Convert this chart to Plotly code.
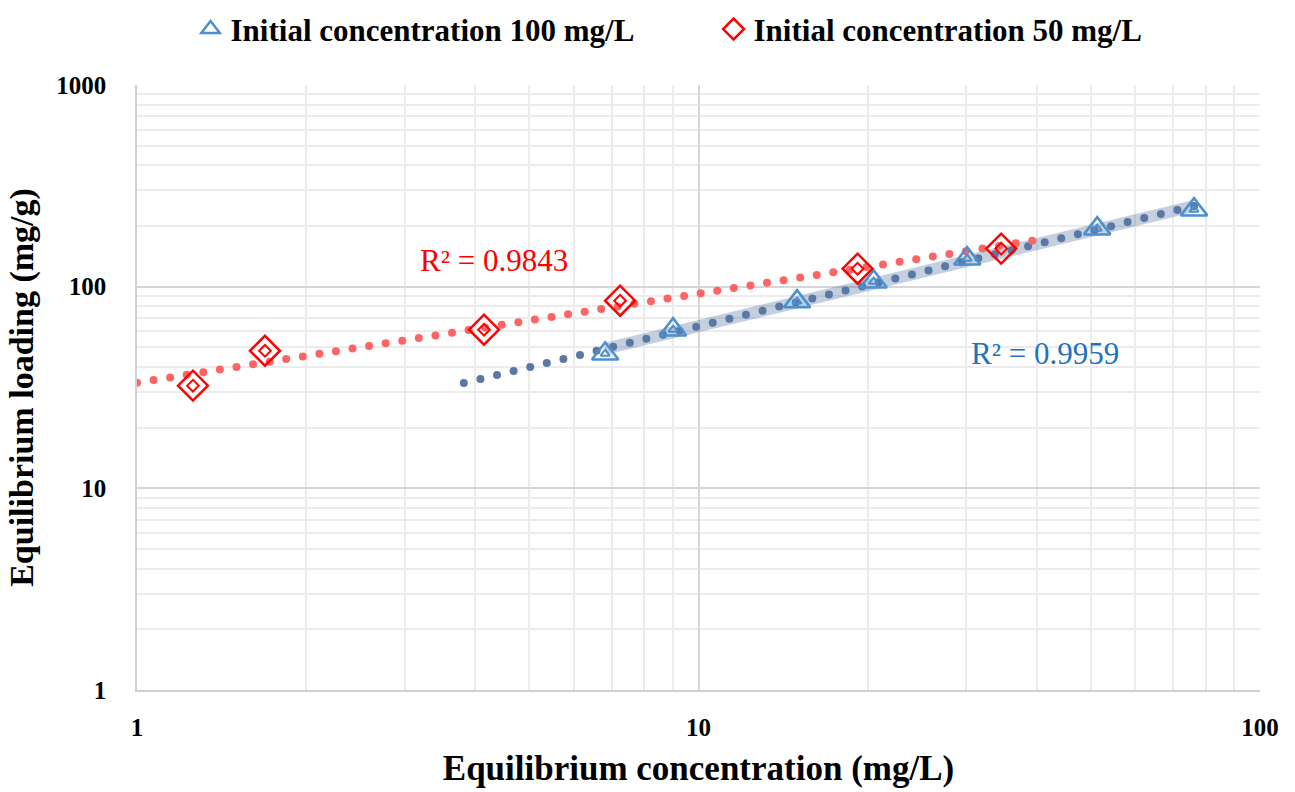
import numpy as np
import plotly.graph_objects as go

# Equilibrium data (Ce in mg/L, qe in mg/g)
ce_100 = [6.82, 9.01, 14.98, 20.5, 30.1, 51.3, 76.3]
qe_100 = [46.5, 61.2, 84.3, 105.9, 137.7, 194.0, 241.0]

ce_50 = [1.258, 1.69, 4.15, 7.25, 19.2, 34.6]
qe_50 = [32.3, 48.1, 61.2, 85.2, 122.8, 154.4]

r2_100_label = "R² = 0.9959"
r2_50_label = "R² = 0.9843"

FONT = "Liberation Serif"
BLUE = "#4a90d0"
RED = "#ff0000"


def power_fit(x, y):
    b, log_a = np.polyfit(np.log10(x), np.log10(y), 1)
    return 10 ** log_a, b


def dotted_points(a, b, x0, x1, n):
    xs = np.logspace(np.log10(x0), np.log10(x1), n)
    return xs, a * xs ** b


a100, b100 = power_fit(ce_100, qe_100)
a50, b50 = power_fit(ce_50, qe_50)

fig = go.Figure()

# Wide translucent band along the 100 mg/L fit over the data range
band_x = np.logspace(np.log10(min(ce_100)), np.log10(max(ce_100)), 40)
fig.add_trace(go.Scatter(
    x=band_x, y=a100 * band_x ** b100, mode="lines",
    line=dict(color="rgba(70,105,155,0.32)", width=12),
    showlegend=False, hoverinfo="skip"))

# Dotted power-law trendlines (round dots)
tx, ty = dotted_points(a100, b100, min(ce_100) - 3, max(ce_100), 45)
fig.add_trace(go.Scatter(
    x=tx, y=ty, mode="markers",
    marker=dict(color="#5a78a6", size=8, line=dict(width=0)),
    showlegend=False, hoverinfo="skip"))

tx, ty = dotted_points(a50, b50, 1.0, max(ce_50) + 4.7, 55)
fig.add_trace(go.Scatter(
    x=tx, y=ty, mode="markers",
    marker=dict(color="#ff6464", size=8, line=dict(width=0)),
    showlegend=False, hoverinfo="skip"))

# Measured points: outer outline plus a small inner outline
fig.add_trace(go.Scatter(
    x=ce_100, y=qe_100, mode="markers", name="Initial concentration 100 mg/L",
    marker=dict(symbol="triangle-up-open", size=23, color=BLUE,
                line=dict(color=BLUE, width=2.5))))
fig.add_trace(go.Scatter(
    x=ce_100, y=qe_100, mode="markers", showlegend=False, hoverinfo="skip",
    marker=dict(symbol="triangle-up-open", size=8, color=BLUE,
                line=dict(color=BLUE, width=2))))
fig.add_trace(go.Scatter(
    x=ce_50, y=qe_50, mode="markers", name="Initial concentration 50 mg/L",
    marker=dict(symbol="diamond-open", size=23, color=RED,
                line=dict(color=RED, width=2.5))))
fig.add_trace(go.Scatter(
    x=ce_50, y=qe_50, mode="markers", showlegend=False, hoverinfo="skip",
    marker=dict(symbol="diamond-open", size=9, color=RED,
                line=dict(color=RED, width=2))))

fig.add_annotation(x=np.log10(4.32), y=np.log10(134.6), xref="x", yref="y",
                   text=r2_50_label, showarrow=False,
                   font=dict(family=FONT, size=31, color=RED))
fig.add_annotation(x=np.log10(41.4), y=np.log10(46.5), xref="x", yref="y",
                   text=r2_100_label, showarrow=False,
                   font=dict(family=FONT, size=31, color="#1f72bd"))

axis_common = dict(
    type="log", showgrid=True, gridcolor="#d6d6d6", gridwidth=1.5,
    showline=True, linecolor="#d0d0d0", linewidth=1.5,
    ticks="", zeroline=False,
    tickfont=dict(family=FONT, size=25, color="black", weight="bold"),
    minor=dict(showgrid=True, gridcolor="#ececec", gridwidth=1.5),
)

fig.update_xaxes(**axis_common, range=[0, 2], dtick=1, ticklabelstandoff=14,
                 title=dict(text="Equilibrium concentration (mg/L)", standoff=16,
                            font=dict(family=FONT, size=35, color="black",
                                      weight="bold")))
fig.update_yaxes(**axis_common, range=[0, 3], dtick=1, ticklabelstandoff=24,
                 title=dict(text="Equilibrium loading (mg/g)", standoff=12,
                            font=dict(family=FONT, size=34, color="black",
                                      weight="bold")))

fig.update_layout(
    width=1295, height=792,
    margin=dict(l=137, r=35, t=85, b=102, autoexpand=False),
    plot_bgcolor="white", paper_bgcolor="white",
    legend=dict(orientation="h", x=0.551, xanchor="center", y=0.997, yanchor="top",
                xref="container", yref="container",
                font=dict(family=FONT, size=31, color="black", weight="bold"),
                entrywidth=478, entrywidthmode="pixels",
                itemwidth=30, bgcolor="rgba(0,0,0,0)"),
    showlegend=True,
)

fig.write_html("out.html")
